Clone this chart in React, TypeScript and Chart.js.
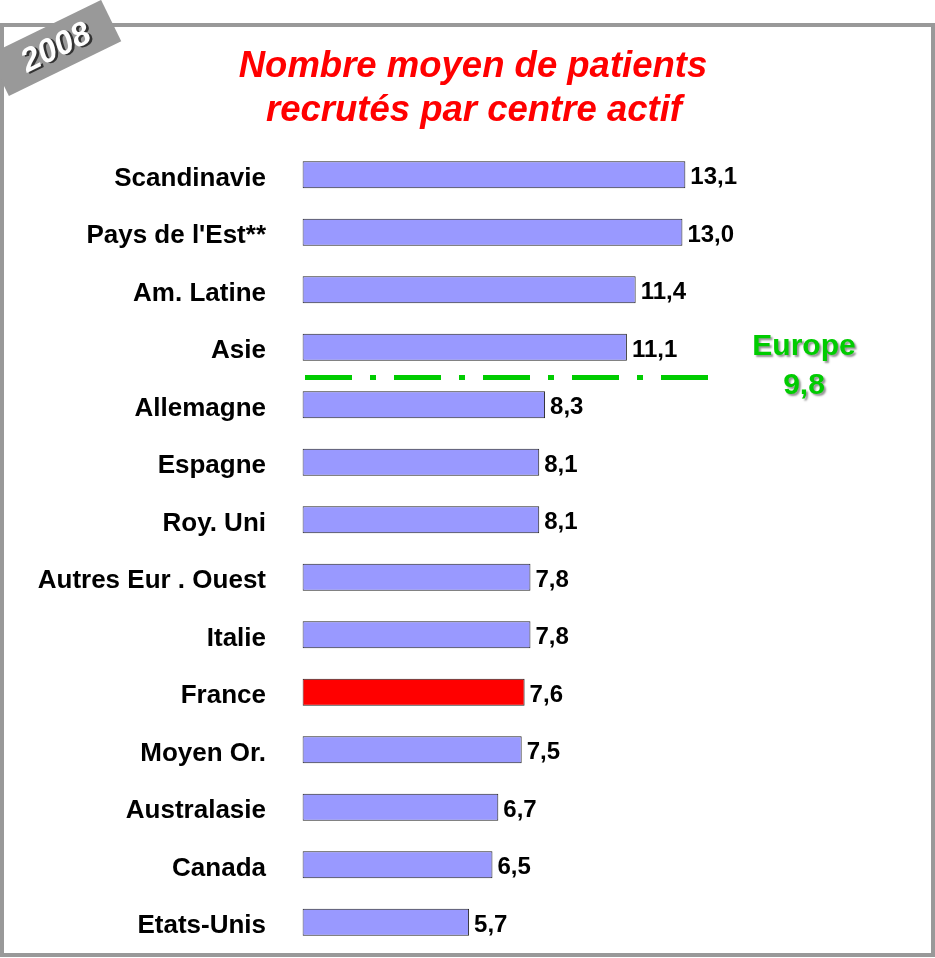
import { useEffect, useRef } from "react";
import { Chart, registerables } from "chart.js";

Chart.register(...registerables);

const categories = [
  "Scandinavie",
  "Pays de l'Est**",
  "Am. Latine",
  "Asie",
  "Allemagne",
  "Espagne",
  "Roy. Uni",
  "Autres Eur . Ouest",
  "Italie",
  "France",
  "Moyen Or.",
  "Australasie",
  "Canada",
  "Etats-Unis",
];
const values = [13.1, 13.0, 11.4, 11.1, 8.3, 8.1, 8.1, 7.8, 7.8, 7.6, 7.5, 6.7, 6.5, 5.7];
const highlighted = "France";
const europeAverage = 9.8;
const europeLabel = "Europe";
const titleLines = ["Nombre moyen de patients", "recrutés par centre actif"];
const yearBadge = "2008";

const FONT = "'Liberation Sans', Arial, Helvetica, sans-serif";
const fmt = (v: number) => v.toFixed(1).replace(".", ",");

const decorPlugin = {
  id: "decor",
  afterDraw(chart: any) {
    const ctx = chart.ctx as CanvasRenderingContext2D;
    const x = chart.scales.x;
    const y = chart.scales.y;
    const area = chart.chartArea;

    // frame
    ctx.save();
    ctx.strokeStyle = "#999999";
    ctx.lineWidth = 4;
    ctx.strokeRect(2, 25, 931, 930);
    ctx.restore();

    // year badge
    ctx.save();
    ctx.translate(55, 48);
    ctx.rotate((-26 * Math.PI) / 180);
    ctx.fillStyle = "#999999";
    ctx.fillRect(-62.5, -23, 125, 46);
    ctx.font = `italic bold 33px ${FONT}`;
    ctx.textAlign = "center";
    ctx.textBaseline = "middle";
    ctx.fillStyle = "#333333";
    ctx.fillText(yearBadge, 3, 3);
    ctx.fillStyle = "#ffffff";
    ctx.fillText(yearBadge, 1, 1);
    ctx.restore();

    // title
    ctx.save();
    ctx.font = `italic bold 36.5px ${FONT}`;
    ctx.fillStyle = "#ff0000";
    ctx.textAlign = "center";
    ctx.textBaseline = "alphabetic";
    ctx.fillText(titleLines[0], 473, 77);
    ctx.fillText(titleLines[1], 474, 121);
    ctx.restore();

    // value labels
    ctx.save();
    ctx.font = `bold 24px ${FONT}`;
    ctx.fillStyle = "#000000";
    ctx.textAlign = "left";
    ctx.textBaseline = "middle";
    values.forEach((v, i) => {
      const px = x.getPixelForValue(v);
      const py = y.getPixelForValue(i);
      ctx.fillText(fmt(v), px + 5, py + 3);
    });
    ctx.restore();

    // Europe line between Asie and Allemagne
    const idx = values.findIndex((v) => v < europeAverage);
    const ly = (y.getPixelForValue(idx - 1) + y.getPixelForValue(idx)) / 2 + 1.5;
    ctx.save();
    ctx.strokeStyle = "#00cc00";
    ctx.lineWidth = 5;
    ctx.setLineDash([47, 18, 6, 18]);
    ctx.beginPath();
    ctx.moveTo(area.left + 2.5, ly);
    ctx.lineTo(x.getPixelForValue(13.9), ly);
    ctx.stroke();
    ctx.restore();

    // Europe label
    ctx.save();
    ctx.font = `bold 30px ${FONT}`;
    ctx.textAlign = "center";
    ctx.textBaseline = "alphabetic";
    const cx = 804;
    ctx.shadowColor = "rgba(120,120,120,0.8)";
    ctx.shadowOffsetX = 2;
    ctx.shadowOffsetY = 2;
    ctx.shadowBlur = 2;
    ctx.fillStyle = "#00cc00";
    ctx.fillText(europeLabel, cx, 355);
    ctx.fillText(fmt(europeAverage), cx, 394);
    ctx.restore();
  },
};

export default function App() {
  const ref = useRef<HTMLCanvasElement | null>(null);

  useEffect(() => {
    document.body.style.margin = "0";
    const canvas = ref.current;
    if (!canvas) return;
    const chart = new Chart(canvas, {
      type: "bar",
      data: {
        labels: categories,
        datasets: [
          {
            data: values,
            backgroundColor: categories.map((c) => (c === highlighted ? "#ff0000" : "#9999ff")),
            borderColor: "#222222",
            borderWidth: 1,
            borderSkipped: false,
            barPercentage: 0.47,
            categoryPercentage: 1,
          },
        ],
      },
      options: {
        indexAxis: "y",
        animation: false,
        responsive: false,
        devicePixelRatio: 1,
        layout: { padding: { top: 146, bottom: 7, left: 0, right: 48 } },
        plugins: {
          legend: { display: false },
          title: { display: false },
          tooltip: { enabled: false },
        },
        scales: {
          x: {
            min: 0,
            max: 20,
            display: false,
          },
          y: {
            grid: { display: false, drawTicks: false },
            border: { display: false },
            ticks: {
              color: "#000000",
              padding: 36.5,
              labelOffset: 4,
              font: { family: FONT, size: 26, weight: "bold" },
            },
            afterFit(scale: any) {
              scale.width = 302.5;
              scale.paddingTop = 0;
              scale.paddingBottom = 0;
            },
          },
        },
      },
      plugins: [decorPlugin],
    });
    return () => chart.destroy();
  }, []);

  return (
    <div style={{ position: "absolute", left: 0, top: 0, width: 935, height: 958 }}>
      <canvas ref={ref} width={935} height={958} style={{ width: 935, height: 958 }} />
    </div>
  );
}
